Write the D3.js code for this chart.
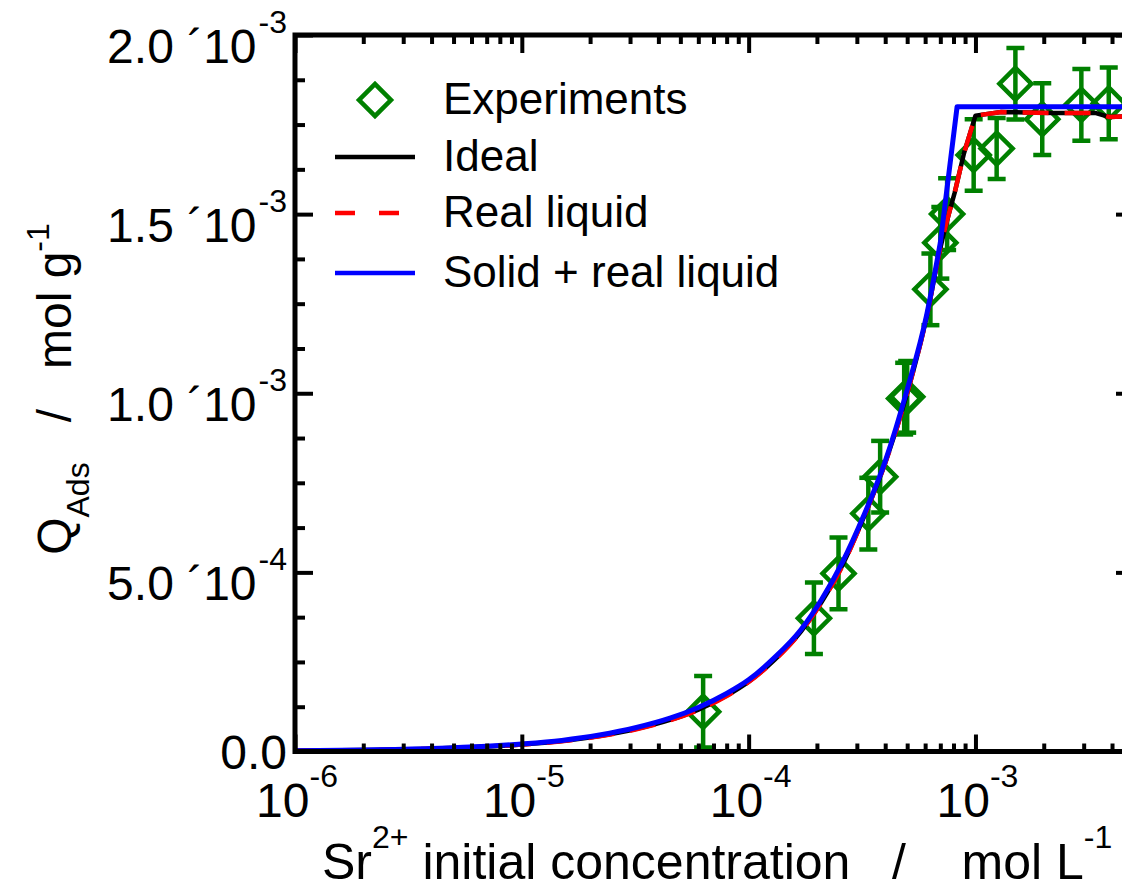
<!DOCTYPE html>
<html>
<head>
<meta charset="utf-8">
<script src="https://cdn.jsdelivr.net/npm/d3@7"></script>
<style>
  html, body { margin: 0; padding: 0; background: #fff; }
  svg { display: block; font-family: "Liberation Sans", Arial, sans-serif; }
</style>
</head>
<body>
<svg id="canvas"></svg>
<script>
let width = 1122
let height = 891
let margin = {left: 295, right: 1134, top: 35, bottom: 751.5}

// experiments: Sr2+ initial concentration (mol/L), adsorbed amount (mol/g), error bar
let expConc = [6.3e-5, 1.94e-4, 2.49e-4, 3.37e-4, 3.80e-4, 4.85e-4, 5.0e-4, 6.33e-4, 7.0e-4, 7.5e-4, 9.82e-4, 1.24e-3, 1.50e-3, 1.97e-3, 2.93e-3, 3.87e-3]
let expQ = [1.11e-4, 3.72e-4, 4.97e-4, 6.64e-4, 7.67e-4, 9.85e-4, 9.90e-4, 1.29e-3, 1.42e-3, 1.50e-3, 1.665e-3, 1.683e-3, 1.864e-3, 1.765e-3, 1.805e-3, 1.809e-3]
let expErr = [1.0e-4, 1.0e-4, 1.0e-4, 1.0e-4, 1.0e-4, 1.0e-4, 1.0e-4, 1.0e-4, 1.0e-4, 1.0e-4, 1.0e-4, 0.85e-4, 1.0e-4, 1.0e-4, 1.0e-4, 1.0e-4]

// model curves (the kink index splits the smooth rise from the plateau)
let idealConc = [1e-6, 2e-6, 4e-6, 7e-6, 1e-5, 1.5e-5, 2.2e-5, 3.2e-5, 4.5e-5, 6e-5, 8e-5, 1e-4, 1.3e-4, 1.7e-4, 2.1e-4, 2.6e-4, 3.2e-4, 4e-4, 5e-4, 6.1e-4, 7e-4, 8.1e-4, 8.9e-4, 1e-3, 1.3e-3, 2.2e-3, 3.4e-3, 3.9e-3, 5e-3]
let idealQ = [1.9e-6, 3.9e-6, 7.8e-6, 1.37e-5, 1.95e-5, 2.9e-5, 4.3e-5, 6.3e-5, 8.8e-5, 1.17e-4, 1.56e-4, 1.95e-4, 2.56e-4, 3.35e-4, 4.18e-4, 5.22e-4, 6.5e-4, 8.05e-4, 1.0e-3, 1.215e-3, 1.405e-3, 1.56e-3, 1.67e-3, 1.775e-3, 1.785e-3, 1.782e-3, 1.782e-3, 1.771e-3, 1.774e-3]
let idealKink = 21

let realConc = [1e-6, 2e-6, 4e-6, 7e-6, 1e-5, 1.5e-5, 2.2e-5, 3.2e-5, 4.5e-5, 6e-5, 8e-5, 1e-4, 1.3e-4, 1.7e-4, 2.1e-4, 2.6e-4, 3.2e-4, 4e-4, 5e-4, 6.1e-4, 7e-4, 8.1e-4, 8.9e-4, 1e-3, 1.3e-3, 2.2e-3, 3.4e-3, 3.9e-3, 5e-3]
let realQ = [1.9e-6, 3.8e-6, 7.7e-6, 1.35e-5, 1.93e-5, 2.87e-5, 4.25e-5, 6.2e-5, 8.7e-5, 1.16e-4, 1.55e-4, 1.94e-4, 2.55e-4, 3.34e-4, 4.17e-4, 5.2e-4, 6.5e-4, 8.05e-4, 1.0e-3, 1.215e-3, 1.405e-3, 1.56e-3, 1.67e-3, 1.775e-3, 1.785e-3, 1.782e-3, 1.782e-3, 1.771e-3, 1.774e-3]
let realKink = 21

let solidConc = [1e-6, 2e-6, 4e-6, 7e-6, 1e-5, 1.5e-5, 2.2e-5, 3.2e-5, 4.5e-5, 6e-5, 8e-5, 1e-4, 1.3e-4, 1.7e-4, 2.1e-4, 2.6e-4, 3.2e-4, 4e-4, 5e-4, 6.1e-4, 7e-4, 8.3e-4, 5e-3]
let solidQ = [2.0e-6, 4.1e-6, 8.2e-6, 1.45e-5, 2.1e-5, 3.1e-5, 4.6e-5, 6.7e-5, 9.3e-5, 1.23e-4, 1.62e-4, 2.0e-4, 2.62e-4, 3.4e-4, 4.25e-4, 5.3e-4, 6.55e-4, 8.1e-4, 1.01e-3, 1.22e-3, 1.42e-3, 1.8e-3, 1.8e-3]
let solidKink = 20

// ticks
let yTicks = [0, 5e-4, 1e-3, 1.5e-3, 2e-3]
let yTickMain = ["0.0", "5.0 \u00b410", "1.0 \u00b410", "1.5 \u00b410", "2.0 \u00b410"]
let yTickSup = ["", "-4", "-3", "-3", "-3"]
let xTicks = [1e-6, 1e-5, 1e-4, 1e-3]
let xTickSup = ["-6", "-5", "-4", "-3"]

let legendNames = ["Experiments", "Ideal", "Real liquid", "Solid + real liquid"]
let green = '#008000'

let canvas = d3.select('#canvas').attr('width', width).attr('height', height)

let xScale = d3.scaleLog().domain([1e-6, 5e-3]).range([margin.left, margin.right])
let yScale = d3.scaleLinear().domain([0, 2e-3]).range([margin.bottom, margin.top])

canvas.append('defs').append('clipPath').attr('id', 'plotclip')
  .append('rect')
  .attr('x', margin.left).attr('y', margin.top)
  .attr('width', margin.right - margin.left).attr('height', margin.bottom - margin.top)

// minor ticks
let xMinor = []
for (let e = -6; e <= -3; e++) for (let m = 2; m <= 9; m++) {
  let v = m * Math.pow(10, e)
  if (v < 5e-3) xMinor.push(v)
}
let yMinor = []
for (let v = 0; v <= 2e-3 + 1e-9; v += 1.25e-4) {
  if (Math.abs(v / 5e-4 - Math.round(v / 5e-4)) > 1e-6) yMinor.push(v)
}

let drawAxes = () => {
  let axes = [
    [d3.axisBottom, xScale, xTicks, xMinor, `translate(0,${margin.bottom})`, -17, -8],
    [d3.axisTop, xScale, xTicks, xMinor, `translate(0,${margin.top})`, -18, -9],
    [d3.axisLeft, yScale, yTicks, yMinor, `translate(${margin.left},0)`, -18, -10],
    [d3.axisRight, yScale, yTicks, yMinor, `translate(${margin.right},0)`, -18, -10]
  ]
  axes.forEach(a => {
    [[a[2], a[5]], [a[3], a[6]]].forEach(t => {
      let g = canvas.append('g')
        .attr('transform', a[4])
        .call(a[0](a[1]).tickValues(t[0]).tickSize(t[1]).tickSizeOuter(0).tickFormat(''))
      g.select('.domain').remove()
      g.selectAll('.tick line').attr('stroke', '#000').attr('stroke-width', 4)
    })
  })

  canvas.append('rect')
    .attr('x', margin.left).attr('y', margin.top)
    .attr('width', margin.right - margin.left).attr('height', margin.bottom - margin.top)
    .attr('fill', 'none').attr('stroke', '#000').attr('stroke-width', 5)

  // y tick labels
  yTicks.forEach((v, i) => {
    let t = canvas.append('text')
      .attr('x', 287)
      .attr('y', yScale(v) + (yTickSup[i] ? 28 : 17))
      .attr('text-anchor', 'end')
      .attr('font-size', 48)
    t.append('tspan').text(yTickMain[i])
    if (yTickSup[i]) t.append('tspan').attr('dx', 2).attr('dy', -30).attr('font-size', 32).text(yTickSup[i])
  })

  // x tick labels
  xTicks.forEach((v, i) => {
    let t = canvas.append('text')
      .attr('x', xScale(v) + 2)
      .attr('y', 817)
      .attr('text-anchor', 'middle')
      .attr('font-size', 48)
    t.append('tspan').text('10')
    t.append('tspan').attr('dy', -30).attr('font-size', 32).text(xTickSup[i])
  })

  // axis titles
  let xt = canvas.append('text').attr('x', 322).attr('y', 879).attr('font-size', 50)
  xt.append('tspan').text('Sr')
  xt.append('tspan').attr('dy', -31).attr('font-size', 32).text('2+')
  xt.append('tspan').attr('dy', 31).text('\u00a0initial concentration\u00a0\u00a0\u00a0/\u00a0\u00a0\u00a0\u00a0mol L')
  xt.append('tspan').attr('dy', -31).attr('font-size', 32).text('-1')

  let yt = canvas.append('text')
    .attr('transform', `translate(71,389) rotate(-90)`)
    .attr('text-anchor', 'middle').attr('font-size', 48)
  yt.append('tspan').text('Q')
  yt.append('tspan').attr('dy', 18).attr('font-size', 32).text('Ads')
  yt.append('tspan').attr('dy', -18).text('\u00a0\u00a0\u00a0/\u00a0\u00a0\u00a0mol g')
  yt.append('tspan').attr('dy', -22).attr('font-size', 32).text('-1')
}

let drawData = () => {
  let plot = canvas.append('g').attr('clip-path', 'url(#plotclip)')

  let diamond = d3.symbol().type(d3.symbolSquare).size(512)

  let exps = expConc.map((c, i) => ({c: c, q: expQ[i], e: expErr[i]}))
  let eg = plot.append('g').attr('stroke', green).attr('stroke-width', 4.5).attr('fill', 'none')
  exps.forEach(d => {
    let x = xScale(d.c)
    eg.append('line').attr('x1', x).attr('x2', x).attr('y1', yScale(d.q - d.e)).attr('y2', yScale(d.q + d.e))
    eg.append('line').attr('x1', x - 9).attr('x2', x + 9).attr('y1', yScale(d.q - d.e)).attr('y2', yScale(d.q - d.e))
    eg.append('line').attr('x1', x - 9).attr('x2', x + 9).attr('y1', yScale(d.q + d.e)).attr('y2', yScale(d.q + d.e))
  })
  eg.selectAll('path.exp')
    .data(exps)
    .enter()
    .append('path')
    .attr('class', 'exp')
    .attr('d', diamond)
    .attr('transform', d => `translate(${xScale(d.c)},${yScale(d.q)}) rotate(45)`)

  let smooth = d3.line().x(d => xScale(d[0])).y(d => yScale(d[1])).curve(d3.curveMonotoneX)
  let straight = d3.line().x(d => xScale(d[0])).y(d => yScale(d[1]))

  let curve = (conc, q, kink, color, w, dash) => {
    let pts = conc.map((c, i) => [c, q[i]])
    plot.append('path')
      .attr('d', smooth(pts.slice(0, kink + 1)) + straight(pts.slice(kink)).replace(/^M/, 'L'))
      .attr('fill', 'none').attr('stroke', color).attr('stroke-width', w)
      .attr('stroke-linejoin', 'round')
      .attr('stroke-dasharray', dash)
  }
  curve(idealConc, idealQ, idealKink, '#000', 4.5, null)
  curve(realConc, realQ, realKink, '#ff0000', 4.5, '26,16')
  curve(solidConc, solidQ, solidKink, '#0000ff', 5, null)
}

let drawLegend = () => {
  let lg = canvas.append('g')
  let rows = [100, 157, 213, 273]
  lg.append('path')
    .attr('d', d3.symbol().type(d3.symbolSquare).size(512)())
    .attr('transform', `translate(375,${rows[0]}) rotate(45)`)
    .attr('fill', 'none').attr('stroke', green).attr('stroke-width', 4.5)
  let styles = [['#000', null], ['#ff0000', '20,24'], ['#0000ff', null]]
  styles.forEach((s, i) => {
    lg.append('line')
      .attr('x1', 335).attr('x2', 415).attr('y1', rows[i + 1]).attr('y2', rows[i + 1])
      .attr('stroke', s[0]).attr('stroke-width', 4.5)
      .attr('stroke-dasharray', s[1])
  })
  lg.selectAll('text')
    .data(legendNames)
    .enter()
    .append('text')
    .attr('x', 443)
    .attr('y', (d, i) => rows[i] + 14)
    .attr('font-size', 44)
    .text(d => d)
}

drawData()
drawAxes()
drawLegend()
</script>
</body>
</html>
